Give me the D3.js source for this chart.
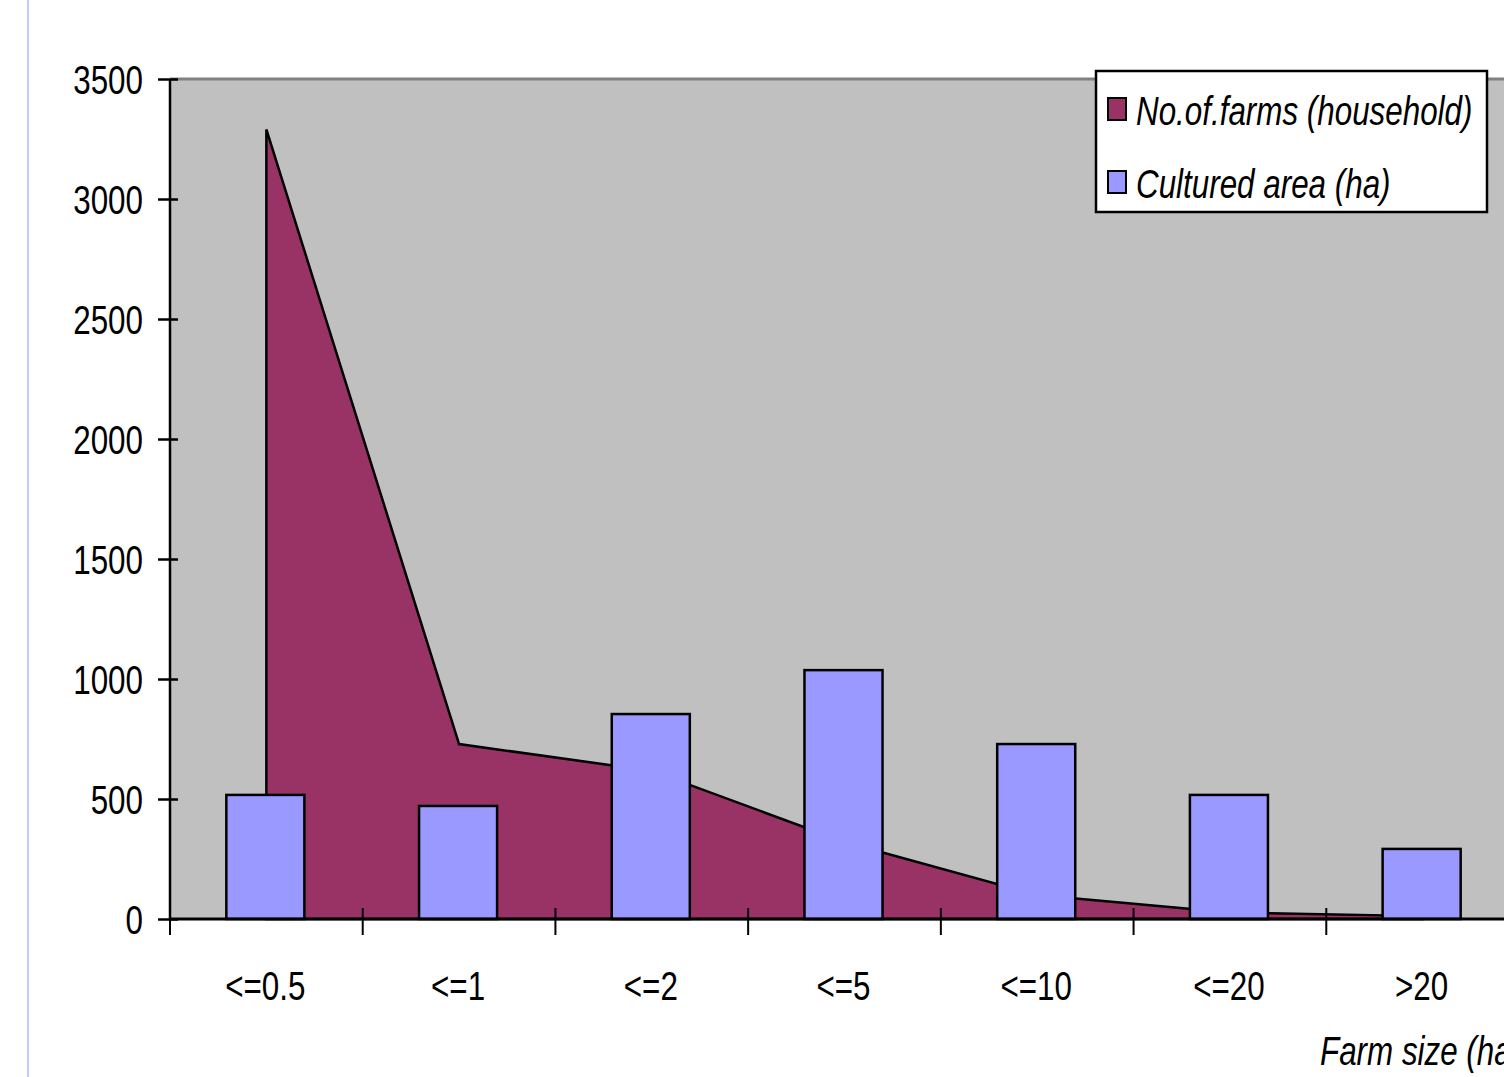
<!DOCTYPE html>
<html><head><meta charset="utf-8">
<script src="https://cdn.jsdelivr.net/npm/d3@7/dist/d3.min.js"></script>
<style>
html,body{margin:0;padding:0;background:#fff;overflow:hidden}
text{font-family:"Liberation Sans Narrow","Liberation Sans",Arial,sans-serif;fill:#000}
</style></head>
<body><svg id="c" width="1504" height="1077"></svg>
<script>
const categories = ["<=0.5","<=1","<=2","<=5","<=10","<=20",">20"];
const farms = [3290, 729, 617, 321, 100, 27, 12];
const area = [517, 471, 854, 1037, 729, 517, 292];
const yTicks = [0,500,1000,1500,2000,2500,3000,3500];
const seriesNames = ["No.of.farms (household)","Cultured area (ha)"];
const xTitle = "Farm size (ha)";

const svg = d3.select("#c");
const FS = 41, SX = 0.765;
svg.append("line").attr("x1",28).attr("x2",28).attr("y1",0).attr("y2",1077)
  .attr("stroke","#c8c8ff").attr("stroke-width",2);

const x = d3.scaleBand().domain(categories).range([170,1519]).padding(0);
const y = d3.scaleLinear().domain([0,3500]).range([919,79]);
const bw = x.bandwidth();

svg.append("rect").attr("x",170).attr("y",y(3500)).attr("width",1519-170).attr("height",y(0)-y(3500))
  .attr("fill","#c0c0c0");
svg.append("line").attr("x1",170).attr("x2",1519).attr("y1",y(3500)).attr("y2",y(3500))
  .attr("stroke","#808080").attr("stroke-width",3);

const ar = d3.area().x((d,i)=>x(categories[i])+bw/2).y0(y(0)).y1(d=>y(d));
svg.append("path").datum(farms).attr("d",ar).attr("fill","#993366")
  .attr("stroke","#000").attr("stroke-width",2.5).attr("stroke-linejoin","miter");

const barW = bw*0.405;
svg.selectAll("rect.bar").data(area).enter().append("rect").attr("class","bar")
  .attr("x",(d,i)=>x(categories[i])+bw/2-barW/2-1)
  .attr("y",d=>y(d)).attr("width",barW).attr("height",d=>y(0)-y(d))
  .attr("fill","#9999ff").attr("stroke","#000").attr("stroke-width",2.5);

const yAxis = d3.axisLeft(y).tickValues(yTicks).tickSize(12).tickPadding(0).tickFormat(d3.format("d"));
const ga = svg.append("g").attr("transform","translate(170,0)").call(yAxis);
ga.select(".domain").attr("stroke","#000").attr("stroke-width",2.5).attr("d","M0,"+y(3500)+"V"+y(0));
ga.selectAll(".tick line").attr("stroke","#000").attr("stroke-width",2.5).attr("x1",8);
ga.selectAll(".tick text").attr("dy","0.36em").style("font-size",FS+"px")
  .attr("transform","scale("+SX+",1)").attr("x",-27/SX);

const xAxis = d3.axisBottom(x).tickSize(16).tickPadding(0).tickFormat("");
const gx = svg.append("g").attr("transform","translate(0,"+y(0)+")").call(xAxis);
gx.select(".domain").attr("stroke","#000").attr("stroke-width",3).attr("d","M170,0H1519");
gx.selectAll(".tick line").remove();
const bounds = categories.map(c=>x(c)).concat([x(categories[categories.length-1])+bw]);
gx.selectAll("line.bt").data(bounds).enter().append("line").attr("class","bt")
  .attr("x1",d=>d).attr("x2",d=>d).attr("y1",-11).attr("y2",16).attr("stroke","#000").attr("stroke-width",2);
gx.selectAll(".tick text").remove();
svg.selectAll("text.cat").data(categories).enter().append("text").attr("class","cat")
  .attr("transform",d=>"translate("+(x(d)+bw/2-1)+",1000) scale("+SX+",1)")
  .attr("text-anchor","middle").style("font-size",FS+"px").text(d=>d);

svg.append("text").attr("transform","translate(1320,1065) scale("+SX+",1)")
  .style("font-size",FS+"px").style("font-style","italic").text(xTitle);

const lg = svg.append("g");
lg.append("rect").attr("x",1096).attr("y",71).attr("width",391).attr("height",141)
  .attr("fill","#fff").attr("stroke","#000").attr("stroke-width",2.5);
const colors = ["#993366","#9999ff"];
seriesNames.forEach((n,i)=>{
  const yy = 98 + i*73;
  lg.append("rect").attr("x",1108).attr("y",yy).attr("width",18).attr("height",22)
    .attr("fill",colors[i]).attr("stroke","#000").attr("stroke-width",2);
  lg.append("text").attr("transform","translate(1136,"+(yy+27)+") scale("+SX+",1)")
    .style("font-size",FS+"px").style("font-style","italic").text(n);
});
</script></body></html>
